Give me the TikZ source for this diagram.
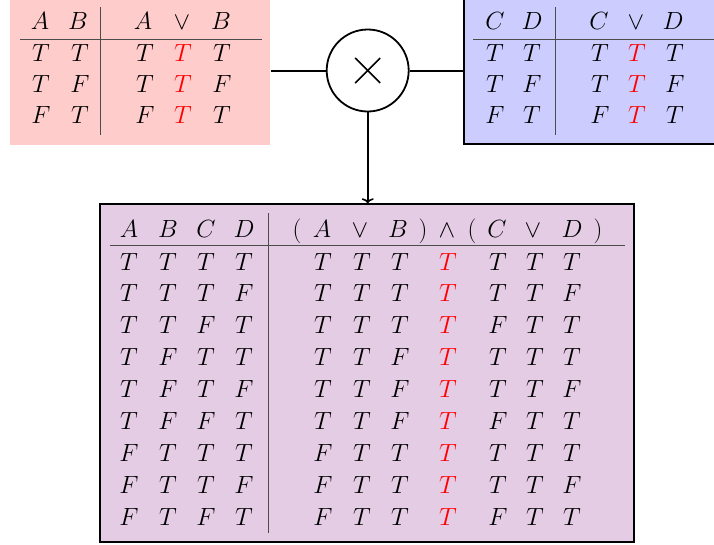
\documentclass[tikz,border=0pt]{standalone}
\usetikzlibrary{arrows.meta}
\begin{document}
\begin{tikzpicture}[x=1pt,y=-1pt,
  cell/.style={inner sep=0pt,anchor=base,font=\fontsize{24.88}{30}\selectfont},
  hit/.style={cell,text=red},
  rule/.style={draw=black!70,line width=1pt},
  wire/.style={draw=black,line width=2pt},
  panel/.style={inner sep=0pt,line width=1.5pt}]
\clip (0,0) rectangle (714,544);

% panels
\node[panel,fill=red!20,minimum width=260pt,minimum height=148pt] (pink) at (140,71) {};
\node[panel,draw=black,fill=blue!20,minimum width=260pt,minimum height=147pt] (blue) at (594,70.5) {};
\node[panel,draw=black,fill=violet!20,minimum width=534pt,minimum height=338pt] (res) at (367,373) {};

% product operator
\node[circle,draw=black,line width=1.8pt,minimum size=82pt,inner sep=0pt] (mul) at (367.7,70.5) {};
\draw[line width=1.5pt] ([shift={(-12.5,-12.5)}]mul.center) -- ([shift={(12.5,12.5)}]mul.center);
\draw[line width=1.5pt] ([shift={(-12.5,12.5)}]mul.center) -- ([shift={(12.5,-12.5)}]mul.center);

% connectors
\draw[wire] (mul.west) -- (mul.west -| pink.east);
\draw[wire] (mul.east) -- (mul.east -| blue.west);
\draw[draw=black,line width=1.6pt,-{To[length=5pt,width=12pt]}] (mul.south) -- (mul.south |- res.north);

% table A or B
\draw[rule] (20,39.3) -- (262,39.3);
\draw[rule] (100.7,7) -- (100.7,135);
\node[cell] (ab-h1) at (40,29.7) {$A$};
\node[cell] (ab-h2) at (78,29.7) {$B$};
\node[cell] (ab-h3) at (143,29.7) {$A$};
\node[cell] (ab-h4) at (182,29.7) {$\vee$};
\node[cell] (ab-h5) at (221,29.7) {$B$};
\foreach \a/\b/\y [count=\i] in {T/T/61.5,T/F/92,F/T/123} {
  \node[cell] (ab-\i-1) at (41,\y) {$\a$};
  \node[cell] (ab-\i-2) at (80,\y) {$\b$};
  \node[cell] (ab-\i-3) at (145,\y) {$\a$};
  \node[hit]  (ab-\i-4) at (183,\y) {$T$};
  \node[cell] (ab-\i-5) at (222,\y) {$\b$};
}

% table C or D
\draw[rule] (473,39.3) -- (720,39.3);
\draw[rule] (555,7) -- (555,135);
\node[cell] (cd-h1) at (495,29.7) {$C$};
\node[cell] (cd-h2) at (532,29.7) {$D$};
\node[cell] (cd-h3) at (599,29.7) {$C$};
\node[cell] (cd-h4) at (636,29.7) {$\vee$};
\node[cell] (cd-h5) at (673,29.7) {$D$};
\foreach \a/\b/\y [count=\i] in {T/T/61.5,T/F/92,F/T/123} {
  \node[cell] (cd-\i-1) at (495,\y) {$\a$};
  \node[cell] (cd-\i-2) at (532,\y) {$\b$};
  \node[cell] (cd-\i-3) at (600,\y) {$\a$};
  \node[hit]  (cd-\i-4) at (637,\y) {$T$};
  \node[cell] (cd-\i-5) at (675,\y) {$\b$};
}

% table (A or B) and (C or D)
\draw[rule] (110,245.7) -- (625,245.7);
\draw[rule] (268,213) -- (268,533);
\foreach \x/\s [count=\j] in {129/A,168/B,206/C,244/D,297/(,322/A,360/\vee,398/B,423/),447/\wedge,472/(,497/C,533/\vee,572/D,598/)} {
  \node[cell] (r-h\j) at (\x,237) {$\s$};
}
\foreach \a/\b/\c/\d [count=\i] in {T/T/T/T,T/T/T/F,T/T/F/T,T/F/T/T,T/F/T/F,T/F/F/T,F/T/T/T,F/T/T/F,F/T/F/T} {
  \node[cell] (r-\i-1) at (129,{238.1+31.9*\i}) {$\a$};
  \node[cell] (r-\i-2) at (168,{238.1+31.9*\i}) {$\b$};
  \node[cell] (r-\i-3) at (206,{238.1+31.9*\i}) {$\c$};
  \node[cell] (r-\i-4) at (244,{238.1+31.9*\i}) {$\d$};
  \node[cell] (r-\i-5) at (323,{238.1+31.9*\i}) {$\a$};
  \node[cell] (r-\i-6) at (362,{238.1+31.9*\i}) {$T$};
  \node[cell] (r-\i-7) at (400,{238.1+31.9*\i}) {$\b$};
  \node[hit]  (r-\i-8) at (448,{238.1+31.9*\i}) {$T$};
  \node[cell] (r-\i-9) at (498,{238.1+31.9*\i}) {$\c$};
  \node[cell] (r-\i-10) at (535,{238.1+31.9*\i}) {$T$};
  \node[cell] (r-\i-11) at (572,{238.1+31.9*\i}) {$\d$};
}
\end{tikzpicture}
\end{document}
